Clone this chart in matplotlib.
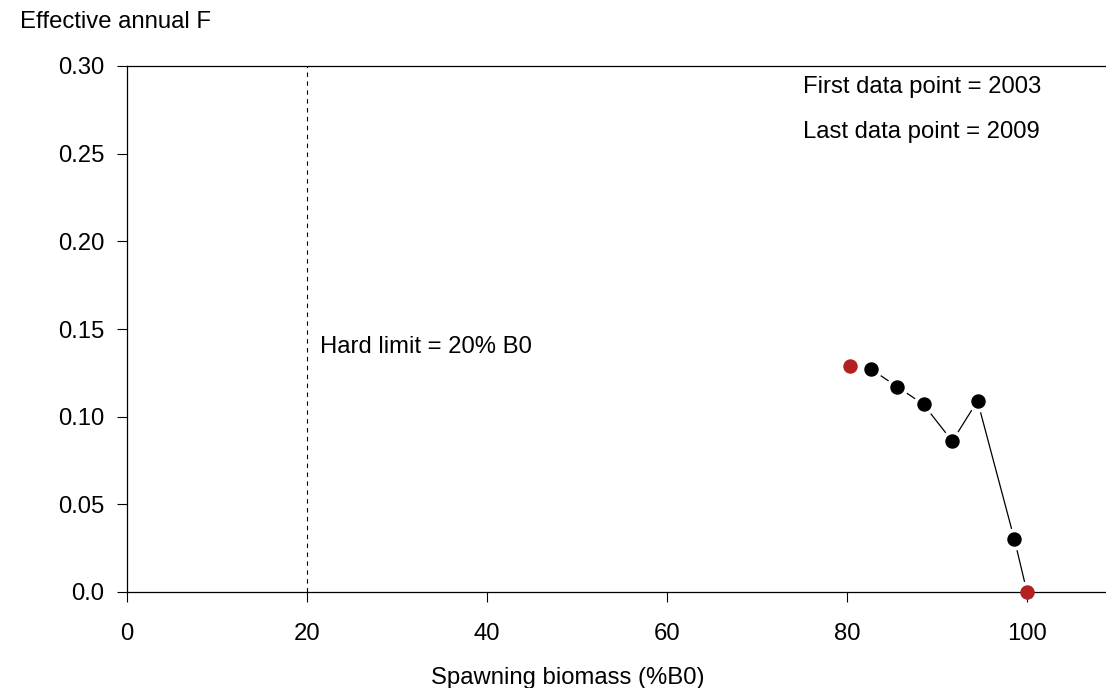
import matplotlib
matplotlib.use("Agg")
import matplotlib.pyplot as plt

plt.rcParams["font.family"] = ["Liberation Sans", "DejaVu Sans"]

# Spawning biomass (%B0) and effective annual F, 2003 -> 2009 (plus final point)
biomass = [80.3, 82.7, 85.6, 88.5, 91.7, 94.5, 98.6, 100.0]
eff_f = [0.129, 0.127, 0.117, 0.107, 0.086, 0.109, 0.030, 0.0]
first_year = 2003
last_year = 2009
hard_limit = 20

x_ticks = [0, 20, 40, 60, 80, 100]
y_ticks = [0.0, 0.05, 0.10, 0.15, 0.20, 0.25, 0.30]
y_tick_labels = ["0.0", "0.05", "0.10", "0.15", "0.20", "0.25", "0.30"]

FS = 17.2

fig = plt.figure(figsize=(11.06, 6.88), dpi=100)
ax = fig.add_axes([127 / 1106, 1 - 592 / 688, 1 - 127 / 1106, (592 - 66) / 688])

ax.set_xlim(0, (1106 - 127) / 9)
ax.set_ylim(0, 0.30)

# R style type="b": line with gaps around the points
ax.plot(biomass, eff_f, color="black", lw=0.9, zorder=1)
ax.plot(biomass, eff_f, ls="none", marker="o", ms=9.4, mfc="white", mec="white", mew=6.5, zorder=1.5)
ax.plot(biomass[1:-1], eff_f[1:-1], ls="none", marker="o", ms=9.4, color="black", zorder=3)
ax.plot([biomass[0], biomass[-1]], [eff_f[0], eff_f[-1]], ls="none", marker="o", ms=9.4,
        color="#b22222", zorder=3, clip_on=False)

ax.axvline(hard_limit, color="black", lw=0.8, ls=(0, (4, 4)), zorder=1)
ax.text(hard_limit + 1.4, 0.14, f"Hard limit = {hard_limit}% B0", fontsize=FS, va="center", ha="left")
ax.text(75.1, 0.288, f"First data point = {first_year}", fontsize=FS, va="center", ha="left")
ax.text(75.1, 0.2625, f"Last data point = {last_year}", fontsize=FS, va="center", ha="left")

ax.set_xticks(x_ticks)
ax.set_yticks(y_ticks)
ax.set_yticklabels(y_tick_labels)
ax.tick_params(axis="both", labelsize=FS, length=7.2, width=0.8, direction="out")
ax.tick_params(axis="x", pad=15)
ax.tick_params(axis="y", pad=9)

for side in ["left", "bottom", "top"]:
    ax.spines[side].set_linewidth(0.9)
ax.spines["right"].set_visible(False)

fig.text(20 / 1106, 1 - 22 / 688, "Effective annual F", fontsize=FS, ha="left", va="center")
fig.text(568 / 1106, 1 - 678 / 688, "Spawning biomass (%B0)", fontsize=FS, ha="center", va="center")

fig.savefig("out.png", dpi=100)
